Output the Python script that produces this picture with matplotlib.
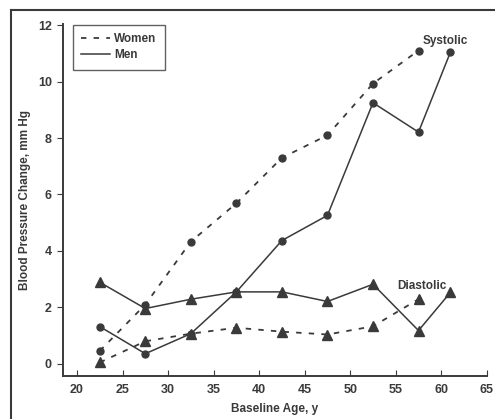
import matplotlib
matplotlib.use("Agg")
import matplotlib.pyplot as plt
from matplotlib.lines import Line2D

plt.rcParams['font.family'] = ['Liberation Sans Narrow', 'Liberation Sans', 'DejaVu Sans']

ages = [22.5, 27.5, 32.5, 37.5, 42.5, 47.5, 52.5, 57.5]
ages_men = [22.5, 27.5, 32.5, 37.5, 42.5, 47.5, 52.5, 57.5, 61]

women_sys = [0.46, 2.1, 4.33, 5.69, 7.3, 8.1, 9.93, 11.1]
men_sys = [1.32, 0.36, 1.07, 2.55, 4.37, 5.26, 9.25, 8.21, 11.04]
women_dia = [0.05, 0.8, 1.07, 1.28, 1.14, 1.04, 1.33, 2.29]
men_dia = [2.89, 1.96, 2.29, 2.55, 2.55, 2.21, 2.82, 1.18, 2.53]

xticks = [20, 25, 30, 35, 40, 45, 50, 55, 60, 65]
yticks = [0, 2, 4, 6, 8, 10, 12]

C = '#3a3a3a'
FS = 8.5
fig = plt.figure(figsize=(4.95, 4.19), dpi=100)
ax = fig.add_axes([63/495, 1-376/419, (487-63)/495, (376-24)/419])

dash = (0, (3, 4))
ax.plot(ages, women_sys, linestyle=dash, color=C, lw=1.3, marker='o', ms=5, mfc=C, mec=C)
ax.plot(ages_men, men_sys, linestyle='-', color=C, lw=1.1, marker='o', ms=5, mfc=C, mec=C)
ax.plot(ages, women_dia, linestyle=dash, color=C, lw=1.3, marker='^', ms=6.5, mfc=C, mec=C)
ax.plot(ages_men, men_dia, linestyle='-', color=C, lw=1.1, marker='^', ms=6.5, mfc=C, mec=C)

ax.text(57.9, 11.45, 'Systolic', fontsize=FS, color=C, fontweight='bold', va='center', ha='left')
ax.text(55.2, 2.75, 'Diastolic', fontsize=FS, color=C, fontweight='bold', va='center', ha='left')

ax.set_xlim(18.46, 65.02)
ax.set_ylim(-0.43, 12.04)
ax.set_xticks(xticks)
ax.set_yticks(yticks)
for s in ['top', 'right']:
    ax.spines[s].set_visible(False)
for s in ['left', 'bottom']:
    ax.spines[s].set_color(C)
    ax.spines[s].set_linewidth(1.4)
ax.tick_params(axis='x', direction='in', length=4, colors=C, labelsize=9, pad=6)
ax.tick_params(axis='y', direction='out', length=4, colors=C, labelsize=9, pad=4)
for lab in ax.get_xticklabels() + ax.get_yticklabels():
    lab.set_fontweight('bold')

ax.set_xlabel('Baseline Age, y', fontsize=FS, color=C, fontweight='bold', labelpad=5)
ax.set_ylabel('Blood Pressure Change, mm Hg', fontsize=FS, color=C, fontweight='bold', labelpad=5)

handles = [Line2D([], [], color=C, linestyle=dash, lw=1.3),
           Line2D([], [], color=C, linestyle='-', lw=1.1)]
leg = ax.legend(handles, ['Women', 'Men'], loc='upper left', bbox_to_anchor=(10/424, 1-1/352),
                borderaxespad=0, frameon=True, fancybox=False, edgecolor=C, fontsize=FS,
                handlelength=2.4, handletextpad=0.4, borderpad=0.7, labelspacing=0.35)
leg.get_frame().set_linewidth(1.0)
for t in leg.get_texts():
    t.set_color(C)
    t.set_fontweight('bold')

# outer frame lines (top and left)
fig.add_artist(Line2D([11/495, 1.0], [1-10/419, 1-10/419], transform=fig.transFigure, color=C, lw=1.5))
fig.add_artist(Line2D([11/495, 11/495], [1-10/419, 0.0], transform=fig.transFigure, color=C, lw=1.5))

fig.savefig('out.png', dpi=100)
